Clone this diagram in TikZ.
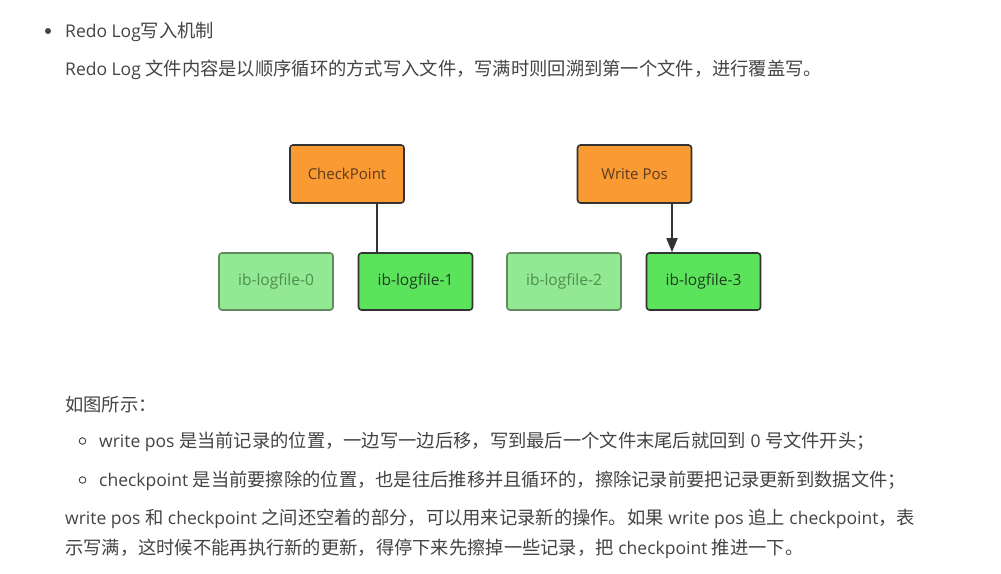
\documentclass[tikz,border=0pt]{standalone}
\usepackage{fontspec}
\setmainfont{Open Sans}
\newfontfamily\cjk[Scale=1.045]{Noto Sans CJK SC}
\newcommand\zh[1]{{\cjk #1}}
\usetikzlibrary{arrows.meta}
\definecolor{txt}{HTML}{444444}
\definecolor{orgfill}{HTML}{FA9A32}
\definecolor{orgtext}{HTML}{5B3B1E}
\definecolor{lgfill}{HTML}{93E993}
\definecolor{lgdraw}{HTML}{5E8A5E}
\definecolor{lgtext}{HTML}{4E8E4E}
\definecolor{dgfill}{HTML}{5CE35C}
\definecolor{dgtext}{HTML}{1E3E1E}
\definecolor{edge}{HTML}{333333}
\tikzset{
  body/.style={anchor=base west, inner sep=0pt, text=txt, font=\fontsize{17.5}{20}\selectfont},
  ptrbox/.style={draw=edge, line width=1.6pt, fill=orgfill, rounded corners=3pt, text=orgtext,
    minimum width=114pt, minimum height=58pt, inner sep=0pt, font=\fontsize{15}{18}\selectfont},
  oldbox/.style={draw=lgdraw, line width=1.6pt, fill=lgfill, rounded corners=3pt, text=lgtext,
    minimum width=114pt, minimum height=57pt, inner sep=0pt, font=\fontsize{15.5}{18}\selectfont},
  curbox/.style={draw=edge, line width=1.6pt, fill=dgfill, rounded corners=3pt, text=dgtext,
    minimum width=114pt, minimum height=57pt, inner sep=0pt, font=\fontsize{15.5}{18}\selectfont},
  link/.style={draw=edge, line width=1.8pt},
}
\begin{document}
\begin{tikzpicture}[x=1pt,y=-1pt]
\useasboundingbox (0,0) rectangle (1001,573);
\fill[white] (0,0) rectangle (1001,573);
% header texts
\fill[txt] (48,31) circle (3pt);
\node[body] (t1) at (65,37) {Redo Log\zh{写入机制}};
\node[body] (t2) at (65,75) {Redo Log \zh{文件内容是以顺序循环的方式写入文件，写满时则回溯到第一个文件，进行覆盖写。}};
% diagram
\node[ptrbox] (cp) at (347,174) {CheckPoint};
\node[ptrbox] (wp) at (634.5,174) {Write Pos};
\node[oldbox] (f0) at (276,281.5) {ib-logfile-0};
\node[curbox] (f1) at (415.5,281.5) {ib-logfile-1};
\node[oldbox] (f2) at (564,281.5) {ib-logfile-2};
\node[curbox] (f3) at (703.5,281.5) {ib-logfile-3};
\draw[link] (cp.south -| 377,0) -- (f1.north -| 377,0);
\draw[link,-{Triangle[length=14pt,width=11pt]}] (wp.south -| 672,0) -- (f3.north -| 672,0);
% lower texts
\node[body] (t3) at (65,411) {\zh{如图所示：}};
\draw[txt, line width=0.9pt] (82.5,441) circle (3.3pt);
\node[body] (t4) at (99,447) {write pos \zh{是当前记录的位置，一边写一边后移，写到最后一个文件末尾后就回到} 0 \zh{号文件开头；}};
\draw[txt, line width=0.9pt] (82.5,480) circle (3.3pt);
\node[body] (t5) at (99,486) {checkpoint \zh{是当前要擦除的位置，也是往后推移并且循环的，擦除记录前要把记录更新到数据文件；}};
\node[body] (t6) at (65,524) {write pos \zh{和} checkpoint \zh{之间还空着的部分，可以用来记录新的操作。如果} write pos \zh{追上} checkpoint\zh{，表}};
\node[body] (t7) at (65,554) {\zh{示写满，这时候不能再执行新的更新，得停下来先擦掉一些记录，把} checkpoint \zh{推进一下。}};
\end{tikzpicture}
\end{document}
